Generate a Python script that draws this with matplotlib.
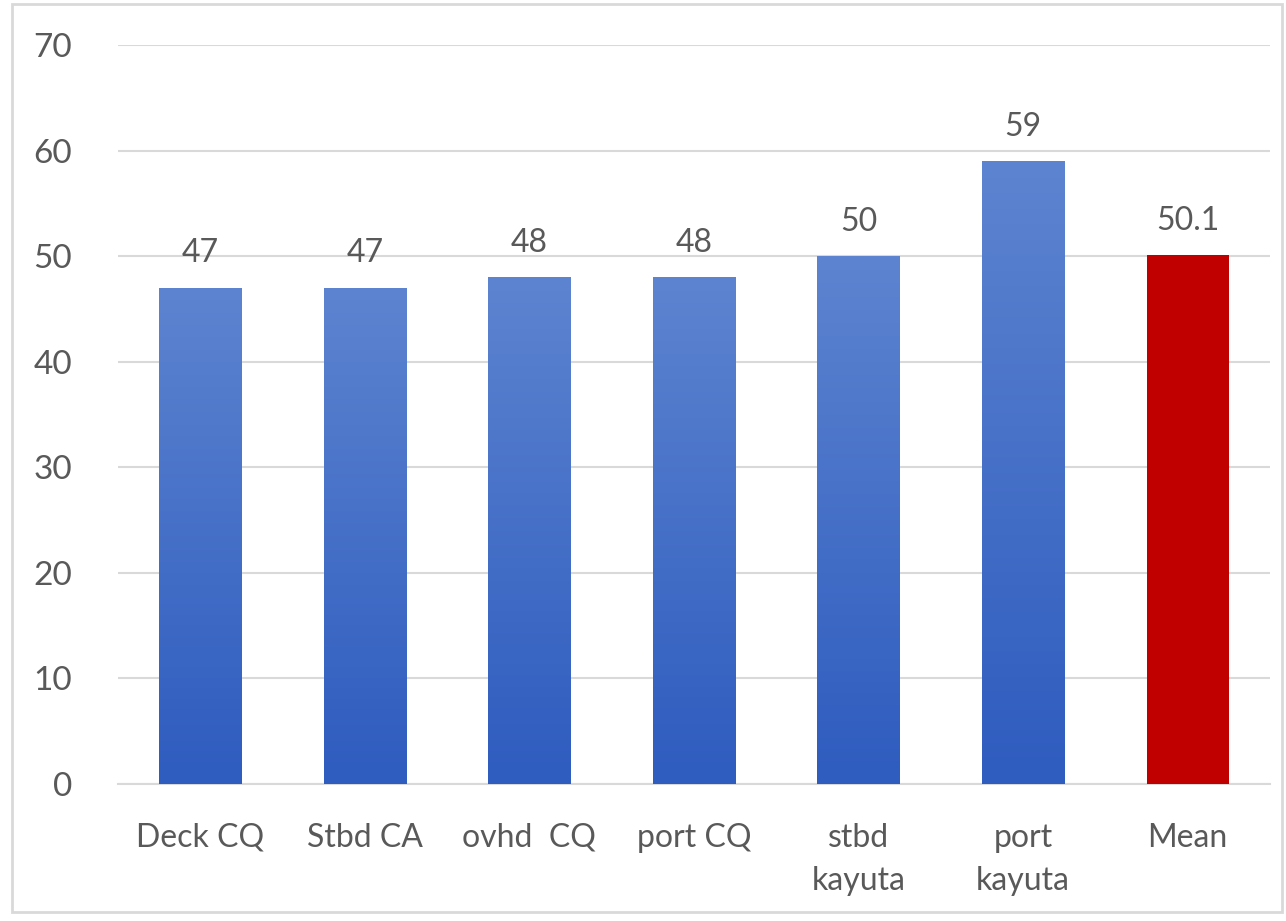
import matplotlib.pyplot as plt
import numpy as np
from matplotlib.colors import LinearSegmentedColormap
from matplotlib.patches import Rectangle

categories = ["Deck CQ", "Stbd CA", "ovhd  CQ", "port CQ", "stbd\nkayuta", "port\nkayuta", "Mean"]
values = [47, 47, 48, 48, 50, 59, 50.1]
value_labels = ["47", "47", "48", "48", "50", "59", "50.1"]
y_ticks = [0, 10, 20, 30, 40, 50, 60, 70]

BAR_WIDTH = 0.5
TEXT_COLOR = "#595959"
GRID_COLOR = "#D9D9D9"
MEAN_COLOR = "#C00000"

plt.rcParams['font.family'] = ['Lato', 'DejaVu Sans']

fig = plt.figure(figsize=(12.86, 9.21), dpi=100)
ax = fig.add_axes([118 / 1286, 1 - 784 / 921, (1270 - 118) / 1286, (784 - 45) / 921])

blue_grad = LinearSegmentedColormap.from_list("blue_grad", ["#2E5CBF", "#5D84D0"])
gradient = np.linspace(0, 1, 256).reshape(-1, 1)

x = np.arange(len(categories))
for i, (xi, val) in enumerate(zip(x, values)):
    left = xi - BAR_WIDTH / 2
    if categories[i] == "Mean":
        ax.bar(xi, val, width=BAR_WIDTH, color=MEAN_COLOR, zorder=3)
    else:
        bar = ax.bar(xi, val, width=BAR_WIDTH, color="none", zorder=3)[0]
        img = ax.imshow(gradient, cmap=blue_grad, origin="lower", aspect="auto",
                        extent=[left, left + BAR_WIDTH, 0, val], zorder=3)
        img.set_clip_path(bar)
    ax.annotate(value_labels[i], (xi, val), xytext=(0, 14), textcoords="offset points",
                ha="center", va="bottom", fontsize=23, color=TEXT_COLOR)

ax.set_xlim(-0.5, len(categories) - 0.5)
ax.set_ylim(0, 70)
ax.set_yticks(y_ticks)
ax.set_xticks(x)
ax.set_xticklabels(categories, fontsize=23, color=TEXT_COLOR, linespacing=1.55)
ax.tick_params(axis="y", labelsize=24, labelcolor=TEXT_COLOR, length=0, pad=33)
ax.tick_params(axis="x", length=0, pad=28)
ax.yaxis.grid(True, color=GRID_COLOR, linewidth=1.5, zorder=0)
ax.set_axisbelow(True)
for side in ["left", "right", "top"]:
    ax.spines[side].set_visible(False)
ax.spines["bottom"].set_color(GRID_COLOR)
ax.spines["bottom"].set_linewidth(1.5)

# светло-серая рамка вокруг всего рисунка
fig.patches.append(Rectangle((12 / 1286, 9 / 921), 1 - 16 / 1286, 1 - 13 / 921,
                             transform=fig.transFigure, fill=False,
                             edgecolor="#D9D9D9", linewidth=2))

fig.savefig("out.png", dpi=100)
